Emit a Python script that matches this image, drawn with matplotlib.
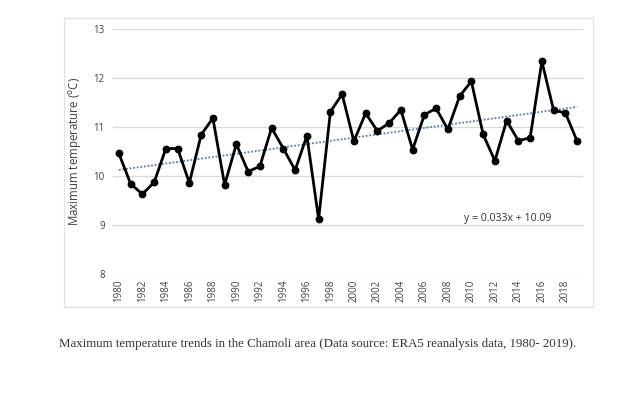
import matplotlib
matplotlib.use('Agg')

import matplotlib.pyplot as plt
from matplotlib.patches import Rectangle
import numpy as np

# --- data ---
years = list(range(1980, 2020))
tmax = [10.46, 9.84, 9.63, 9.87, 10.56, 10.56, 9.86, 10.84, 11.18, 9.82,
        10.65, 10.09, 10.20, 10.98, 10.56, 10.12, 10.82, 9.12, 11.31, 11.67,
        10.71, 11.28, 10.92, 11.08, 11.35, 10.54, 11.25, 11.38, 10.95, 11.63,
        11.93, 10.85, 10.31, 11.13, 10.72, 10.78, 12.34, 11.34, 11.29, 10.71]
trend_slope = 0.033
trend_icpt = 10.09
yticks = [8, 9, 10, 11, 12, 13]
xtick_years = list(range(1980, 2019, 2))
caption = ('Maximum temperature trends in the Chamoli area '
           '(Data source: ERA5 reanalysis data, 1980- 2019).')

fig = plt.figure(figsize=(6.4, 3.93), dpi=100)

# chart frame (Excel style)
fig.patches.append(Rectangle((64 / 640, 1 - 307 / 393), (593 - 64) / 640, (307 - 18) / 393,
                             transform=fig.transFigure, fill=False,
                             edgecolor='#e3e3e3', linewidth=1.0))

ax = fig.add_axes([113 / 640, 1 - 274 / 393, (583 - 113) / 640, (274 - 29) / 393])

for y in yticks:
    ax.axhline(y, color='#d9d9d9', linewidth=0.9, zorder=0)

# trendline (x = 1 for 1980)
idx = np.arange(1, len(years) + 1)
trend = trend_slope * idx + trend_icpt
ax.plot(years, trend, linestyle=(0, (1, 1)), color='#5a7ca8', linewidth=1.3, zorder=2)

ax.plot(years, tmax, color='black', linewidth=2.0, marker='o', markersize=4.6, zorder=3)

ax.text(2013.1, 9.14, f'y = {trend_slope}x + {trend_icpt}', ha='center', va='center',
        fontsize=7.6, color='#333333', family='Open Sans')

ax.set_xlim(1979.5, 2019.5)
ax.set_ylim(8, 13)
ax.set_yticks(yticks)
ax.set_xticks(xtick_years)
ax.set_xticklabels([str(y) for y in xtick_years], rotation=90, family='Open Sans',
                   fontsize=7, color='#404040')
ax.set_yticklabels([str(y) for y in yticks], family='Open Sans', fontsize=7, color='#404040')
ax.tick_params(length=0, pad=6)
ax.tick_params(axis='x', pad=4)
for s in ax.spines.values():
    s.set_visible(False)

ax.set_ylabel('Maximum temperature ($^{\\mathrm{o}}$C)', family='Open Sans',
              fontsize=8.3, color='#404040', labelpad=7)

fig.text(59 / 640, 1 - 344 / 393, caption, ha='left', va='center',
         family='Liberation Serif', fontsize=9.3, color='#333333')

fig.savefig('out.png', dpi=100)
